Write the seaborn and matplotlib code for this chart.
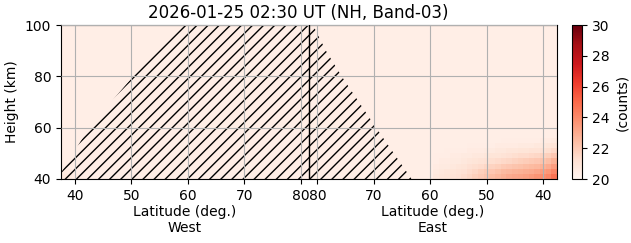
import numpy as np
import pandas as pd
import matplotlib
matplotlib.use("Agg")
import matplotlib.pyplot as plt
import matplotlib.transforms as mtransforms
import seaborn as sns

# ---------------- data ----------------
title = "2026-01-25 02:30 UT (NH, Band-03)"
height_edges = list(range(40, 101, 2))            # km, 30 rows
west_lats = list(range(38, 82))                   # cell centres, West half (left -> right)
east_lats = list(range(81, 37, -1))               # cell centres, East half (left -> right)
background = 20.45                                 # counts, bulk of the field

# brighter corner, East side, low latitude / low height (lat 59 -> 38)
east_corner_lats = list(range(59, 37, -1))
east_corner = [
    [20.8, 20.9, 21.0, 21.1, 21.2, 21.4, 21.6, 21.8, 22.0, 22.2, 22.4, 22.6, 22.8, 23.0, 23.1, 23.2, 23.3, 23.5, 23.7, 23.9, 24.1, 24.7],  # 40-42
    [20.7, 20.8, 20.9, 21.0, 21.1, 21.2, 21.4, 21.6, 21.8, 22.0, 22.1, 22.3, 22.5, 22.6, 22.7, 22.8, 22.9, 23.0, 23.2, 23.4, 23.6, 24.1],  # 42-44
    [20.6, 20.7, 20.7, 20.8, 20.9, 21.0, 21.2, 21.3, 21.4, 21.6, 21.7, 21.8, 22.0, 22.1, 22.2, 22.3, 22.4, 22.5, 22.6, 22.8, 23.0, 23.4],  # 44-46
    [20.5, 20.6, 20.6, 20.7, 20.7, 20.8, 20.9, 21.0, 21.1, 21.2, 21.3, 21.4, 21.5, 21.6, 21.7, 21.8, 21.9, 22.0, 22.1, 22.2, 22.4, 22.8],  # 46-48
    [20.5, 20.5, 20.5, 20.6, 20.6, 20.7, 20.7, 20.8, 20.8, 20.9, 21.0, 21.0, 21.1, 21.2, 21.3, 21.4, 21.4, 21.5, 21.6, 21.7, 21.8, 22.1],  # 48-50
    [20.45, 20.45, 20.5, 20.5, 20.5, 20.5, 20.6, 20.6, 20.6, 20.7, 20.7, 20.8, 20.8, 20.9, 20.9, 21.0, 21.0, 21.1, 21.1, 21.2, 21.3, 21.5],  # 50-52
    [20.45, 20.45, 20.45, 20.45, 20.45, 20.45, 20.5, 20.5, 20.5, 20.5, 20.5, 20.6, 20.6, 20.6, 20.6, 20.7, 20.7, 20.7, 20.8, 20.8, 20.9, 21.0],  # 52-54
    [20.45, 20.45, 20.45, 20.45, 20.45, 20.45, 20.45, 20.45, 20.45, 20.45, 20.45, 20.45, 20.5, 20.5, 20.5, 20.5, 20.5, 20.5, 20.5, 20.6, 20.6, 20.7],  # 54-56
]
# slight tint in the West low corner (lat 38 -> 41)
west_corner_lats = [38, 39, 40, 41]
west_corner = [
    [20.8, 20.7, 20.6, 20.5],  # 40-42
    [20.7, 20.6, 20.5, 20.5],  # 42-44
]

# missing-data (hatched) region boundaries
mask_heights = [40, 60, 80, 90, 100]
mask_west_lat = [36.8, 42.5, 50.3, 54.6, 58.9]
mask_east_lat = [63.3, 69.6, 75.7, 78.5, 80.8]

tick_lats = [40, 50, 60, 70, 80]
height_ticks = [40, 60, 80, 100]
cbar_ticks = [20, 22, 24, 26, 28, 30]

# ---------------- build field ----------------
nrows = len(height_edges) - 1
cols = [("W", l) for l in west_lats] + [("E", l) for l in east_lats]
Z = np.full((nrows, len(cols)), background)
for r, row in enumerate(east_corner):
    for v, lat in zip(row, east_corner_lats):
        Z[r, cols.index(("E", lat))] = v
for r, row in enumerate(west_corner):
    for v, lat in zip(row, west_corner_lats):
        Z[r, cols.index(("W", lat))] = v
df = pd.DataFrame(Z, index=height_edges[:-1],
                  columns=[f"{s}{l}" for s, l in cols])

nw = len(west_lats)
x0 = west_lats[0] - 0.5          # lat at the left edge of the plot


def xw(lat):  # West latitude -> heatmap column coordinate
    return lat - x0


def xe(lat):  # East latitude -> heatmap column coordinate
    return nw + (east_lats[0] + 0.5 - lat)


def yh(h):
    return (h - height_edges[0]) / (height_edges[1] - height_edges[0])


# ---------------- plot ----------------
sns.set_style("white")
plt.rcParams['font.family'] = ['DejaVu Sans']
plt.rcParams.update({"text.color": "black", "axes.labelcolor": "black",
                     "xtick.color": "black", "ytick.color": "black",
                     "hatch.linewidth": 1.0})
fig = plt.figure(figsize=(6.31, 2.43), dpi=100)
ax = fig.add_axes([61 / 631, 64 / 243, 496 / 631, 154 / 243])
cax = fig.add_axes([572 / 631, 64 / 243, 10 / 631, 154 / 243])

sns.heatmap(df, ax=ax, cbar_ax=cax, cmap="Reds", vmin=20, vmax=30,
            xticklabels=False, yticklabels=False,
            cbar_kws={"ticks": cbar_ticks})
ax.set_ylim(0, nrows)
ax.set_xlim(0, len(cols))

# hatched missing region
ax.fill_betweenx([yh(h) for h in mask_heights],
                 [xw(l) for l in mask_west_lat],
                 [xe(l) for l in mask_east_lat],
                 hatch="///", facecolor="none", edgecolor="black",
                 linewidth=0, zorder=2)

# divider between West and East
ax.axvline(nw, color="black", lw=1.0, zorder=3)

xt = [xw(l) for l in tick_lats] + [xe(l) for l in tick_lats[::-1]]
xl = [str(l) for l in tick_lats] + [str(l) for l in tick_lats[::-1]]
ax.set_xticks(xt)
ax.set_xticklabels(xl, rotation=0, fontsize=10)
ax.set_yticks([yh(h) for h in height_ticks])
ax.set_yticklabels([str(h) for h in height_ticks], rotation=0, fontsize=10)
ax.tick_params(axis="both", which="both", length=3.5, width=0.8,
               direction="out", bottom=True, left=True, pad=3.5, colors="black")
ax.set_xlabel("")
ax.set_ylabel("Height (km)", fontsize=10)
ax.grid(True, color="#b0b0b0", lw=0.8)
ax.set_axisbelow(False)
for s in ax.spines.values():
    s.set_visible(True)
    s.set_color("black")
    s.set_linewidth(0.8)

trans = mtransforms.blended_transform_factory(ax.transData, ax.transAxes)
ax.text(nw / 2, -0.17, "Latitude (deg.)\nWest", transform=trans,
        ha="center", va="top", fontsize=10, linespacing=1.15)
ax.text(nw + (len(cols) - nw) / 2, -0.17, "Latitude (deg.)\nEast",
        transform=trans, ha="center", va="top", fontsize=10, linespacing=1.15)

cb = ax.collections[0].colorbar
cb.outline.set_visible(True)
cb.outline.set_linewidth(0.8)
cb.outline.set_edgecolor("black")
cax.tick_params(labelsize=10, length=3.5, width=0.8, colors="black")
cb.set_label("(counts)", fontsize=10)

fig.text(298 / 631, 1 - 17.5 / 243, title, ha="center", va="baseline",
         fontsize=12)

fig.savefig("out.png", dpi=100)
